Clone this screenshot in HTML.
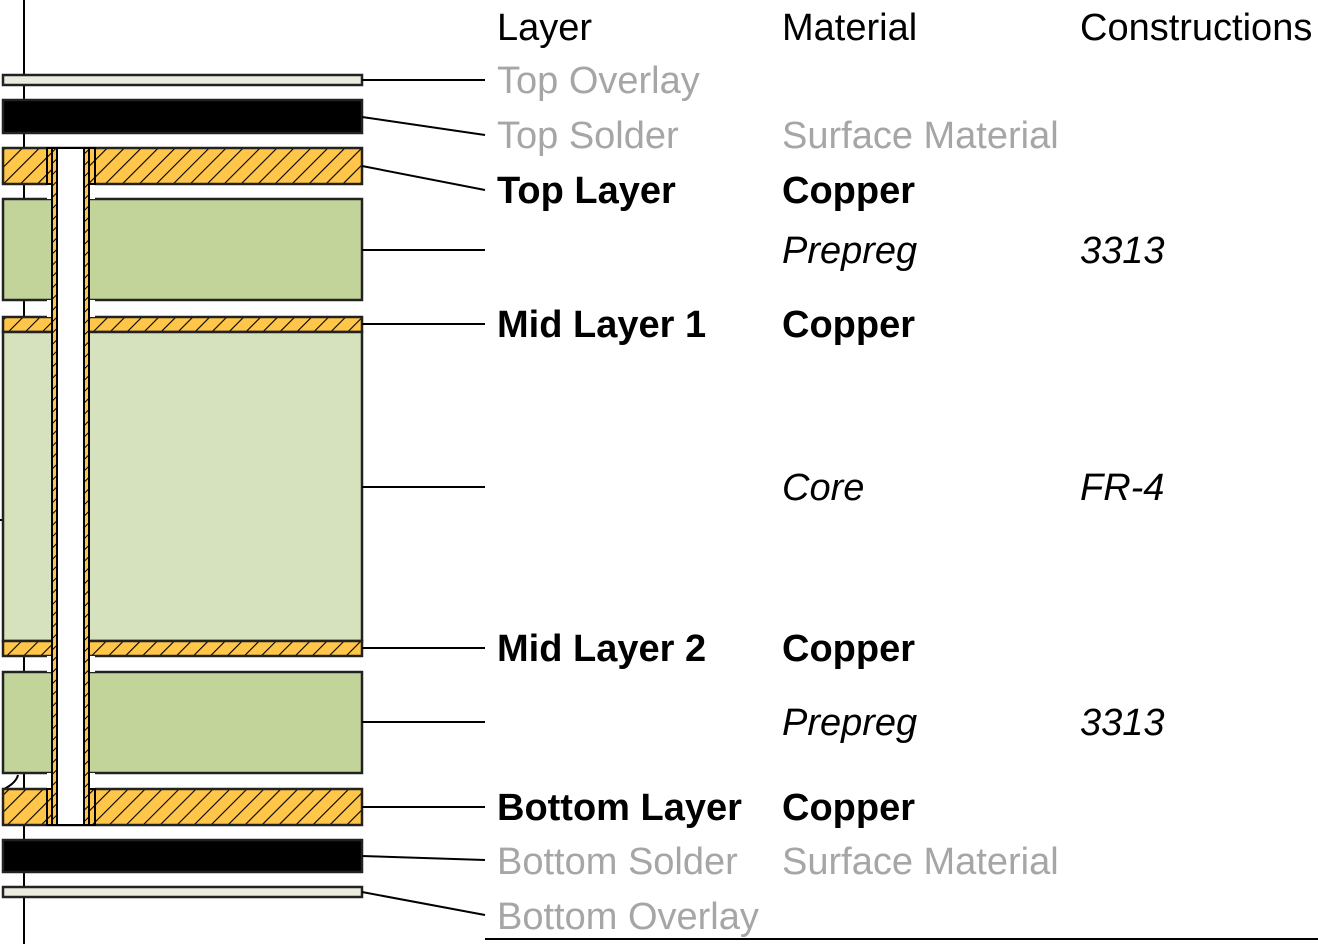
<!DOCTYPE html>
<html><head><meta charset="utf-8">
<style>
html,body{margin:0;padding:0;background:#fff;}
svg{display:block;}
text{font-family:"Liberation Sans",Arial,sans-serif;font-size:38px;dominant-baseline:central;}
.g{fill:#a6a6a6;}
.b{font-weight:bold;fill:#000;font-size:38px;}
.i{font-style:italic;fill:#000;}
.h{fill:#000;}
</style></head>
<body>
<svg width="1318" height="944" viewBox="0 0 1318 944">
<defs>
<pattern id="hatch" patternUnits="userSpaceOnUse" width="12" height="12" patternTransform="rotate(45)">
<rect width="12" height="12" fill="#ffc64a"/>
<line x1="0" y1="0" x2="0" y2="12" stroke="#000" stroke-width="2.2"/>
</pattern>
<pattern id="hatchf" patternUnits="userSpaceOnUse" width="8" height="8" patternTransform="rotate(45)">
<rect width="8" height="8" fill="#ffc64a"/>
<line x1="0" y1="0" x2="0" y2="8" stroke="#000" stroke-width="2"/>
</pattern>
</defs>
<line x1="24" y1="0" x2="24" y2="944" stroke="#000" stroke-width="2"/>
<line x1="0" y1="520" x2="6" y2="520" stroke="#000" stroke-width="2"/>
<path d="M18 775 Q16 783 4 789" fill="none" stroke="#000" stroke-width="2"/>

<g stroke="#222" stroke-width="2.5">
<rect x="3" y="75" width="359" height="10" fill="#ecebe0"/>
<rect x="3" y="100" width="359" height="33" fill="#000"/>
<rect x="3" y="148" width="359" height="36" fill="url(#hatch)"/>
<rect x="3" y="199" width="359" height="101" fill="#c3d49b"/>
<rect x="3" y="317" width="359" height="15" fill="url(#hatch)"/>
<rect x="3" y="332" width="359" height="309" fill="#d6e2bd"/>
<rect x="3" y="641" width="359" height="15" fill="url(#hatch)"/>
<rect x="3" y="672" width="359" height="101" fill="#c3d49b"/>
<rect x="3" y="789" width="359" height="36" fill="url(#hatch)"/>
<rect x="3" y="840" width="359" height="32" fill="#000"/>
<rect x="3" y="887" width="359" height="10" fill="#ecebe0"/>
</g>
<!-- via -->
<g stroke="#000" stroke-width="2">
<rect x="47" y="184" width="48" height="15" fill="#fff" stroke="none"/>
<rect x="47" y="300" width="48" height="17" fill="#fff" stroke="none"/>
<rect x="47" y="656" width="48" height="16" fill="#fff" stroke="none"/>
<rect x="47" y="773" width="48" height="16" fill="#fff" stroke="none"/>
<rect x="47" y="148" width="10" height="36" fill="url(#hatch)"/>
<rect x="84" y="148" width="11" height="36" fill="url(#hatch)"/>
<rect x="47" y="789" width="10" height="36" fill="url(#hatch)"/>
<rect x="84" y="789" width="11" height="36" fill="url(#hatch)"/>
<rect x="52" y="148" width="5" height="677" fill="url(#hatchf)"/>
<rect x="84" y="148" width="5" height="677" fill="url(#hatchf)"/>
<rect x="57" y="148" width="27" height="677" fill="#fff"/>
</g>
<!-- leaders -->
<g stroke="#000" stroke-width="2">
<line x1="362" y1="80" x2="485" y2="80"/>
<line x1="362" y1="117" x2="485" y2="135"/>
<line x1="362" y1="166" x2="485" y2="190"/>
<line x1="362" y1="250" x2="485" y2="250"/>
<line x1="362" y1="324" x2="485" y2="324"/>
<line x1="362" y1="487" x2="485" y2="487"/>
<line x1="362" y1="648" x2="485" y2="648"/>
<line x1="362" y1="722" x2="485" y2="722"/>
<line x1="362" y1="807" x2="485" y2="807"/>
<line x1="362" y1="856" x2="485" y2="860"/>
<line x1="362" y1="892" x2="485" y2="915"/>
<line x1="485" y1="939" x2="1318" y2="939"/>
</g>
<!-- headers -->
<text x="497" y="28" class="h">Layer</text>
<text x="782" y="28" class="h">Material</text>
<text x="1080" y="28" class="h">Constructions</text>
<!-- rows -->
<text x="497" y="81" class="g">Top Overlay</text>
<text x="497" y="136" class="g">Top Solder</text>
<text x="782" y="136" class="g">Surface Material</text>
<text x="497" y="191" class="b">Top Layer</text>
<text x="782" y="191" class="b">Copper</text>
<text x="782" y="251" class="i">Prepreg</text>
<text x="1080" y="251" class="i">3313</text>
<text x="497" y="325" class="b">Mid Layer 1</text>
<text x="782" y="325" class="b">Copper</text>
<text x="782" y="488" class="i">Core</text>
<text x="1080" y="488" class="i">FR-4</text>
<text x="497" y="649" class="b">Mid Layer 2</text>
<text x="782" y="649" class="b">Copper</text>
<text x="782" y="723" class="i">Prepreg</text>
<text x="1080" y="723" class="i">3313</text>
<text x="497" y="808" class="b">Bottom Layer</text>
<text x="782" y="808" class="b">Copper</text>
<text x="497" y="862" class="g">Bottom Solder</text>
<text x="782" y="862" class="g">Surface Material</text>
<text x="497" y="917" class="g">Bottom Overlay</text>
</svg>
</body></html>
